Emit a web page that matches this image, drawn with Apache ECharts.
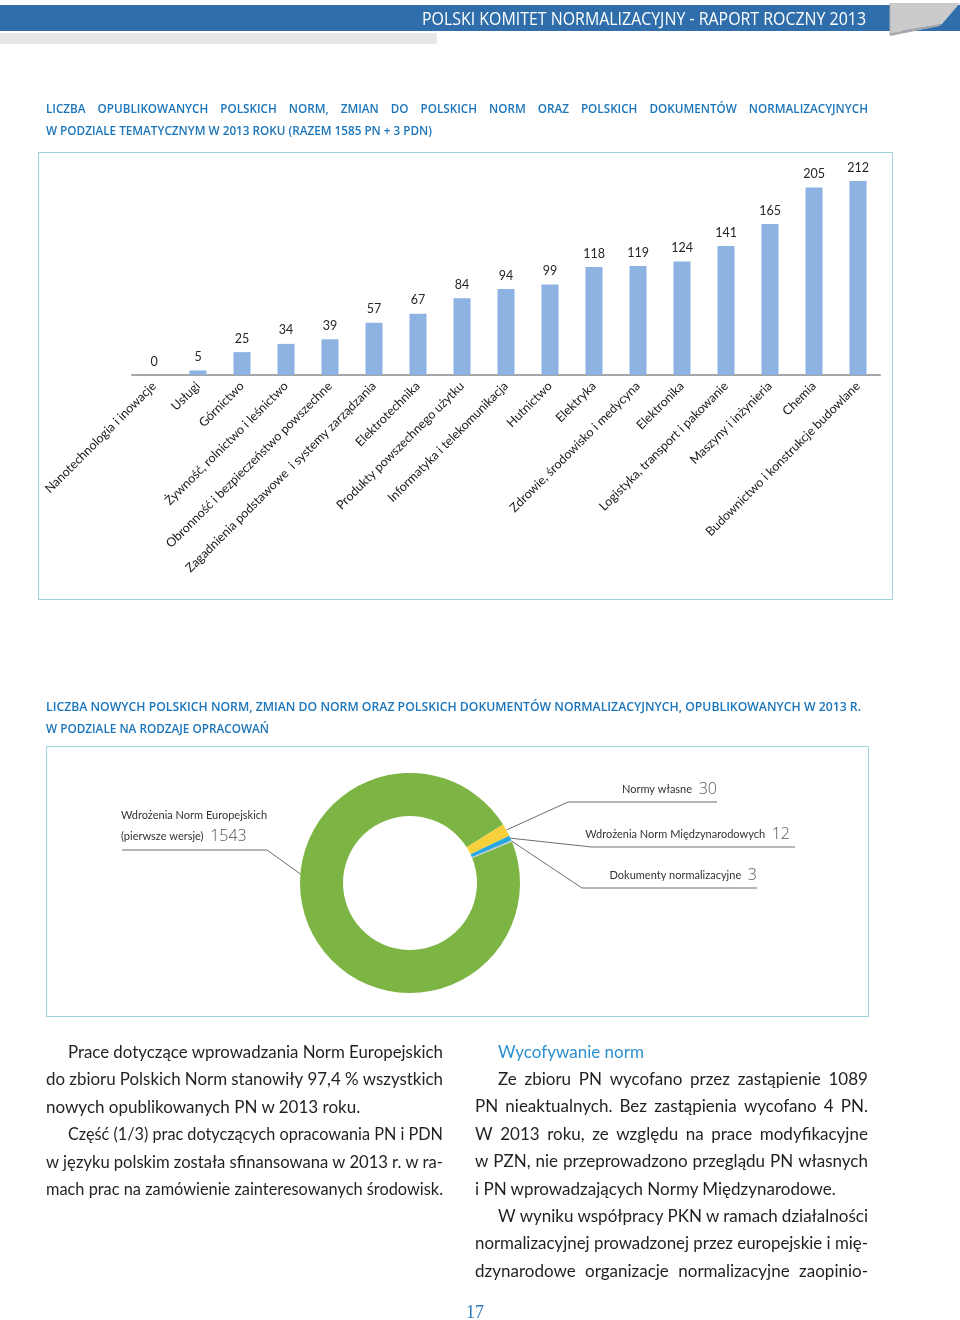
<!DOCTYPE html>
<html><head><meta charset="utf-8">
<script src="https://cdn.jsdelivr.net/npm/echarts@6/dist/echarts.min.js"></script>
<style>
html,body{margin:0;padding:0;background:#fff;}
#page{position:relative;width:960px;height:1320px;overflow:hidden;background:#fff;}
#chart{position:absolute;left:0;top:0;width:960px;height:1320px;z-index:2;}
.abs{position:absolute;white-space:nowrap;}
.box{position:absolute;border:1.5px solid #9fd4d8;box-sizing:border-box;z-index:1;}
</style>
</head><body>
<div id="page">
  <div class="abs" style="left:0;top:5px;width:960px;height:26px;background:#2f6eab;"></div>
  <div class="abs" style="left:0;top:33px;width:437px;height:11px;background:#e6e7e8;"></div>
  <svg class="abs" style="left:880px;top:0;" width="80" height="40">
    <polygon points="10,3 80,3 62,24 10,33" fill="#cbcbcc"/>
    <polygon points="10,33 62,24 60,26 10,36" fill="#a8a9ab"/>
    <line x1="10" y1="3" x2="10" y2="35" stroke="#b0b1b3" stroke-width="1"/>
  </svg>
  <div class="box" style="left:38px;top:152px;width:855px;height:448px;"></div>
  <div class="box" style="left:46px;top:746px;width:823px;height:271px;"></div>
  <div id="chart"></div>
</div>
<script>
// ---- data ----
const categories = [
  'Nanotechnologia i inowacje','Usługi','Górnictwo','Żywność, rolnictwo i leśnictwo',
  'Obronność i bezpieczeństwo powszechne','Zagadnienia podstawowe  i systemy zarządzania',
  'Elektrotechnika','Produkty powszechnego użytku','Informatyka i telekomunikacja',
  'Hutnictwo','Elektryka','Zdrowie, środowisko i medycyna','Elektronika',
  'Logistyka, transport i pakowanie','Maszyny i inżynieria','Chemia',
  'Budownictwo i konstrukcje budowlane'
];
const counts = [0,5,25,34,39,57,67,84,94,99,118,119,124,141,165,205,212];
const typeNames = ['Wdrożenia Norm Europejskich','Normy własne','Wdrożenia Norm Międzynarodowych','Dokumenty normalizacyjne'];
const typeCounts = [1543,30,12,3];
const typeColors = ['#7db544','#f6d13b','#29a8e0','#bfc8cd'];

// ---- text helpers ----
const page = document.getElementById('page');
function addLine(o){
  const d = document.createElement('div');
  d.className='abs';
  d.style.fontFamily = o.font || 'Lato, "Open Sans", sans-serif';
  d.style.fontSize = (o.size||17)+'px';
  d.style.fontWeight = o.weight || 400;
  d.style.color = o.color || '#231f20';
  d.style.lineHeight = (o.lh||24)+'px';
  d.style.left = o.x+'px';
  d.style.top = (o.y - (o.lh||24)/2)+'px';
  d.style.zIndex = 3;
  d.style.transformOrigin = 'left center';
  page.appendChild(d);
  let scale = o.scale || 1;
  if (o.justify){
    d.textContent = o.text;
    const nat = d.getBoundingClientRect().width;
    if (!o.scale && nat > o.width) scale = o.width/nat;
    d.textContent = '';
    d.style.display='flex';
    d.style.justifyContent='space-between';
    d.style.width = (o.width/scale)+'px';
    o.text.split(' ').forEach(w=>{const s=document.createElement('span');s.textContent=w;d.appendChild(s);});
    if (scale!==1) d.style.transform='scaleX('+scale+')';
    return scale;
  } else {
    d.textContent = o.text;
    if (o.fit){
      const nat = d.getBoundingClientRect().width;
      const s = o.fit/nat;
      d.style.transform='scaleX('+s+')';
      return s;
    }
    if (scale!==1) d.style.transform='scaleX('+scale+')';
    return scale;
  }
}
// header
addLine({x:422,y:18,text:'POLSKI KOMITET NORMALIZACYJNY - RAPORT ROCZNY 2013',fit:444,size:18,color:'#ffffff',font:'"Open Sans", sans-serif',lh:26});
// titles
const TB = '#1b75bb';
const tf = '"Open Sans", sans-serif';
const s1 = addLine({x:46,y:130,text:'W PODZIALE TEMATYCZNYM W 2013 ROKU (RAZEM 1585 PN + 3 PDN)',fit:386,size:13,weight:600,color:TB,font:tf,lh:18});
addLine({x:46,y:108,text:'LICZBA OPUBLIKOWANYCH POLSKICH NORM, ZMIAN DO POLSKICH NORM ORAZ POLSKICH DOKUMENTÓW NORMALIZACYJNYCH',justify:true,width:822,scale:s1,size:13,weight:600,color:TB,font:tf,lh:18});
addLine({x:46,y:706,text:'LICZBA NOWYCH POLSKICH NORM, ZMIAN DO NORM ORAZ POLSKICH DOKUMENTÓW NORMALIZACYJNYCH, OPUBLIKOWANYCH W 2013 R.',fit:815,size:13,weight:600,color:TB,font:tf,lh:18});
addLine({x:46,y:728,text:'W PODZIALE NA RODZAJE OPRACOWAŃ',fit:223,size:13,weight:600,color:TB,font:tf,lh:18});

// body text
const leftLines = [
  ['Prace dotyczące wprowadzania Norm Europejskich',1,1],
  ['do zbioru Polskich Norm stanowiły 97,4 % wszystkich',0,1],
  ['nowych opublikowanych PN w 2013 roku.',0,0],
  ['Część (1/3) prac dotyczących opracowania PN i PDN',1,1],
  ['w języku polskim została sfinansowana w 2013 r. w ra-',0,1],
  ['mach prac na zamówienie zainteresowanych środowisk.',0,1]
];
leftLines.forEach((l,i)=>{
  const ind = l[1]?22:0;
  addLine({x:46+ind,y:1052+i*27.4,text:l[0],justify:!!l[2],width:397-ind,size:17});
});
addLine({x:498,y:1052,text:'Wycofywanie norm',size:17,color:'#2b8fcf'});
const rightLines = [
  ['Ze zbioru PN wycofano przez zastąpienie 1089',1,1],
  ['PN nieaktualnych. Bez zastąpienia wycofano 4 PN.',0,1],
  ['W 2013 roku, ze względu na prace modyfikacyjne',0,1],
  ['w PZN, nie przeprowadzono przeglądu PN własnych',0,1],
  ['i PN wprowadzających Normy Międzynarodowe.',0,0],
  ['W wyniku współpracy PKN w ramach działalności',1,1],
  ['normalizacyjnej prowadzonej przez europejskie i mię-',0,1],
  ['dzynarodowe organizacje normalizacyjne zaopinio-',0,1]
];
rightLines.forEach((l,i)=>{
  const ind = l[1]?23:0;
  addLine({x:475+ind,y:1079+i*27.4,text:l[0],justify:!!l[2],width:393-ind,size:17});
});
addLine({x:466,y:1312,text:'17',size:18,color:'#2b7bbf',font:'"Liberation Serif", serif'});

// ---- chart ----
const chart = echarts.init(document.getElementById('chart'), null, {renderer:'canvas'});
const labelPos = [
  {elbow:[267,850], end:[122,850], x:121, y:847, align:'left'},
  {elbow:[568,802], end:[717,802], x:717, y:800, align:'right'},
  {elbow:[592,847], end:[795,847], x:790, y:845, align:'right'},
  {elbow:[582,888], end:[757,888], x:757, y:886, align:'right'}
];
const option = {
  animation:false,
  backgroundColor:'transparent',
  grid:{left:132,right:80,top:181,bottom:945,containLabel:false,outerBoundsMode:'none'},
  xAxis:{
    type:'category', data:categories,
    axisLine:{show:true,lineStyle:{color:'#a6a6a6',width:2}},
    axisTick:{show:false},
    axisLabel:{interval:0,rotate:45,margin:9,color:'#1a1a1a',fontSize:12.5,fontFamily:'Lato, "Open Sans", sans-serif'},
    splitLine:{show:false}
  },
  yAxis:{type:'value',min:0,max:212,show:false,splitLine:{show:false}},
  series:[
    {
      type:'bar', data:counts, barWidth:17,
      itemStyle:{color:'#8db3e2'},
      label:{show:true,position:'top',distance:7,color:'#262626',fontSize:12.5,fontFamily:'Lato, "Open Sans", sans-serif'}
    },
    {
      type:'pie', center:[410,883], radius:[67,110], startAngle:22, clockwise:true,
      avoidLabelOverlap:false,
      data:typeNames.map((n,i)=>({name:n,value:typeCounts[i],itemStyle:{color:typeColors[i]}})),
      label:{
        show:true, position:'outside',
        formatter:function(p){
          if (p.dataIndex===0) return '{a|Wdrożenia Norm Europejskich}\n{a|(pierwsze wersje)}  {b|'+p.value+'}';
          return '{a|'+p.name+'}  {b|'+p.value+'}';
        },
        rich:{
          a:{fontSize:11,color:'#333',fontFamily:'Lato, "Open Sans", sans-serif',lineHeight:21},
          b:{fontSize:16,color:'#555',fontFamily:'"Open Sans", Lato, sans-serif',fontWeight:300,lineHeight:21}
        }
      },
      labelLine:{show:true,smooth:false,length:10,length2:10,lineStyle:{color:'#6d6e71',width:1}},
      labelLayout:function(params){
        const i = params.dataIndex;
        const L = labelPos[i];
        let start = params.labelLinePoints ? params.labelLinePoints[0] : [0,0];
        if (i===0){ start=[320,888]; }
        return {
          x:L.x, y:L.y, align:L.align, verticalAlign:'bottom',
          labelLinePoints:[start, L.elbow, L.end]
        };
      },
      emphasis:{disabled:true}
    }
  ]
};
chart.setOption(option);
</script>
</body></html>
